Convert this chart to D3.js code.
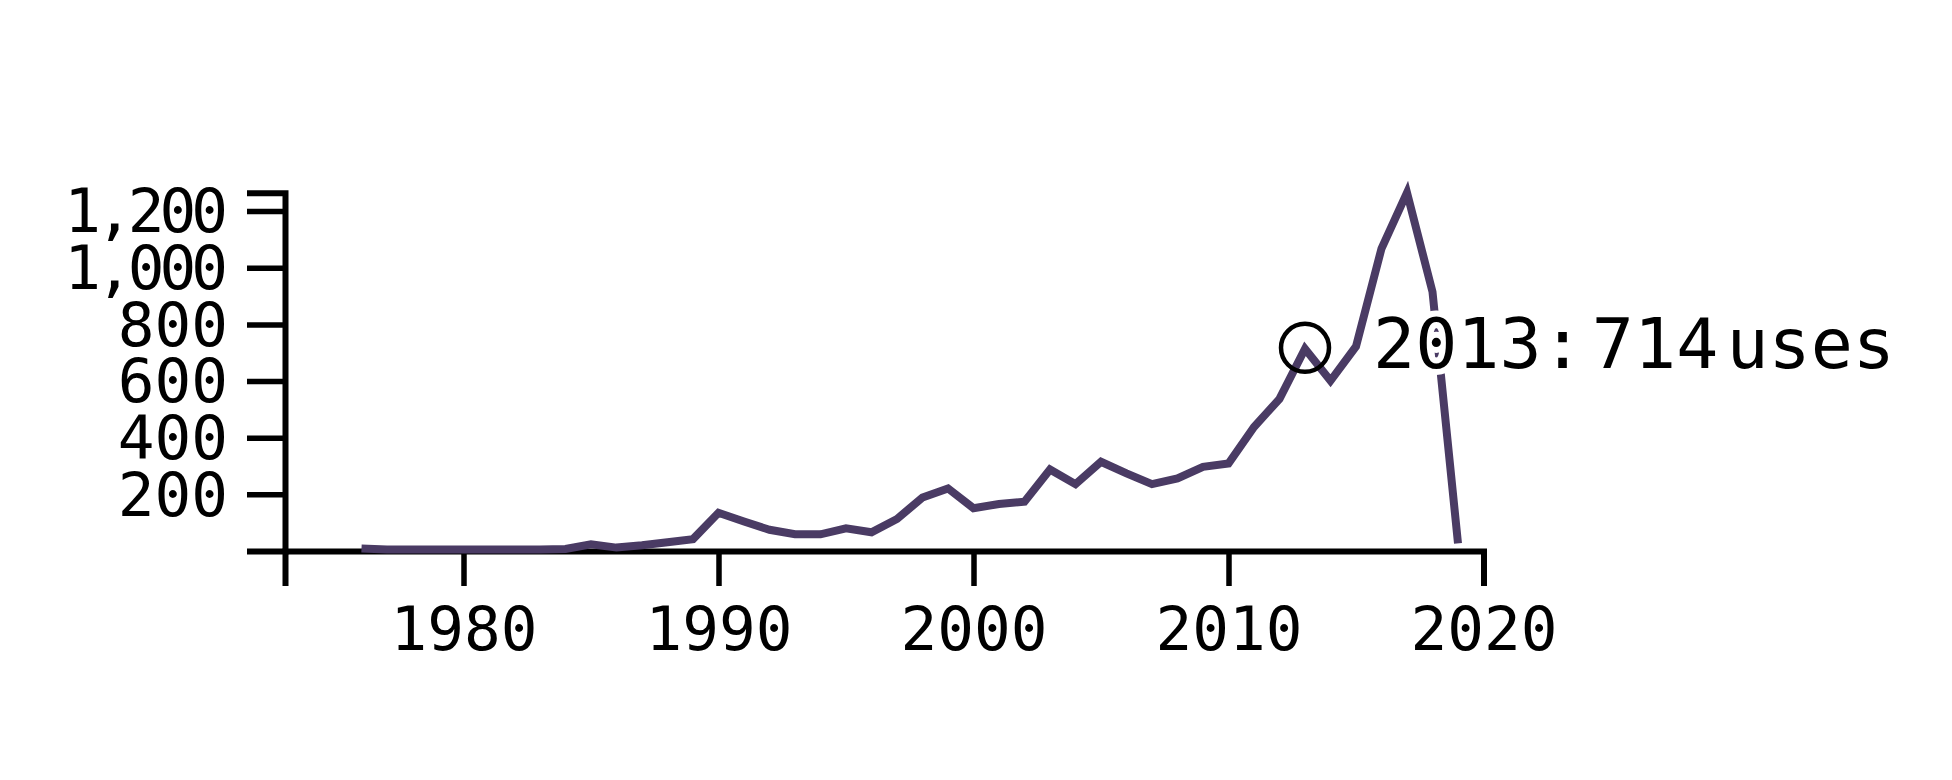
<!DOCTYPE html>
<html>
<head>
<meta charset="utf-8">
<script src="https://cdn.jsdelivr.net/npm/d3@7"></script>
<style>
  html, body { margin: 0; padding: 0; background: #fff; }
  svg { display: block; }
  text { font-family: "DejaVu Sans Mono", monospace; }
</style>
</head>
<body>
<svg id="chart" width="1952" height="780"></svg>
<script>
// ---- data ----
const years = [1976,1977,1978,1979,1980,1981,1982,1983,1984,1985,1986,1987,1988,1989,
               1990,1991,1992,1993,1994,1995,1996,1997,1998,1999,2000,2001,2002,2003,
               2004,2005,2006,2007,2008,2009,2010,2011,2012,2013,2014,2015,2016,2017,
               2018,2019];
const uses = [9,5,5,5,5,5,5,5,7,24,12,20,31,42,
              135,104,75,59,59,80,66,113,189,221,151,166,174,288,
              236,315,274,236,256,297,309,438,537,714,601,722,1068,1265,
              915,27];
const xDomain = [1973, 2020];
const xTicks = [1980, 1990, 2000, 2010, 2020];
const yTicks = [200, 400, 600, 800, 1000, 1200];
const highlightYear = 2013;

// ---- layout ----
const svg = d3.select("#chart");
const mLeft = 285, mRight = 1483.5, mTop = 192.7, mBottom = 551;
const lineColor = "#4a3b64";

const data = years.map((yr, i) => ({ year: yr, value: uses[i] }));

const x = d3.scaleLinear().domain(xDomain).range([mLeft, mRight]);
const y = d3.scaleLinear().domain([0, d3.max(uses)]).range([mBottom, mTop]);

// x axis
const gx = svg.append("g")
  .attr("transform", `translate(0,${mBottom})`)
  .call(d3.axisBottom(x).tickValues(xTicks).tickFormat(d3.format("d"))
        .tickSize(35).tickPadding(21));
gx.select(".domain").attr("stroke", "#000").attr("stroke-width", 6);
gx.selectAll(".tick line").attr("stroke", "#000").attr("stroke-width", 5.5);
gx.selectAll(".tick text").attr("font-size", 61).attr("fill", "#000")
  .attr("font-family", "DejaVu Sans Mono");

// y axis
const fmt = d3.format(",");
const gy = svg.append("g")
  .attr("transform", `translate(${mLeft},0)`)
  .call(d3.axisLeft(y).tickValues(yTicks).tickSize(38).tickPadding(19).tickFormat(fmt));
gy.select(".domain").attr("stroke", "#000").attr("stroke-width", 6);
gy.selectAll(".tick line").attr("stroke", "#000").attr("stroke-width", 5.5);
gy.selectAll(".tick text")
  .attr("font-size", 61).attr("fill", "#000").attr("dy", "0.34em")
  .attr("font-family", "DejaVu Sans Mono")
  .each(function(d) {
    const s = fmt(d);
    if (s.indexOf(",") >= 0) {
      const w = this.getComputedTextLength();
      d3.select(this).attr("textLength", w - 20).attr("lengthAdjust", "spacing");
    }
  });

// line
const line = d3.line().x(d => x(d.year)).y(d => y(d.value));
svg.append("path")
  .datum(data)
  .attr("fill", "none")
  .attr("stroke", lineColor)
  .attr("stroke-width", 8)
  .attr("stroke-linejoin", "miter")
  .attr("d", line);

// annotation
const hd = data.find(d => d.year === highlightYear);
const cx = x(hd.year), cy = y(hd.value);
svg.append("circle")
  .attr("cx", cx).attr("cy", cy - 1).attr("r", 24)
  .attr("fill", "none").attr("stroke", "#000").attr("stroke-width", 4.5);

svg.append("text")
  .attr("x", cx + 68).attr("y", cy + 19)
  .attr("font-size", 70).attr("fill", "#000")
  .style("word-spacing", "-34px")
  .attr("stroke", "#fff").attr("stroke-width", 12)
  .attr("paint-order", "stroke").attr("stroke-linejoin", "round")
  .text(`${hd.year}: ${hd.value} uses`);
</script>
</body>
</html>
